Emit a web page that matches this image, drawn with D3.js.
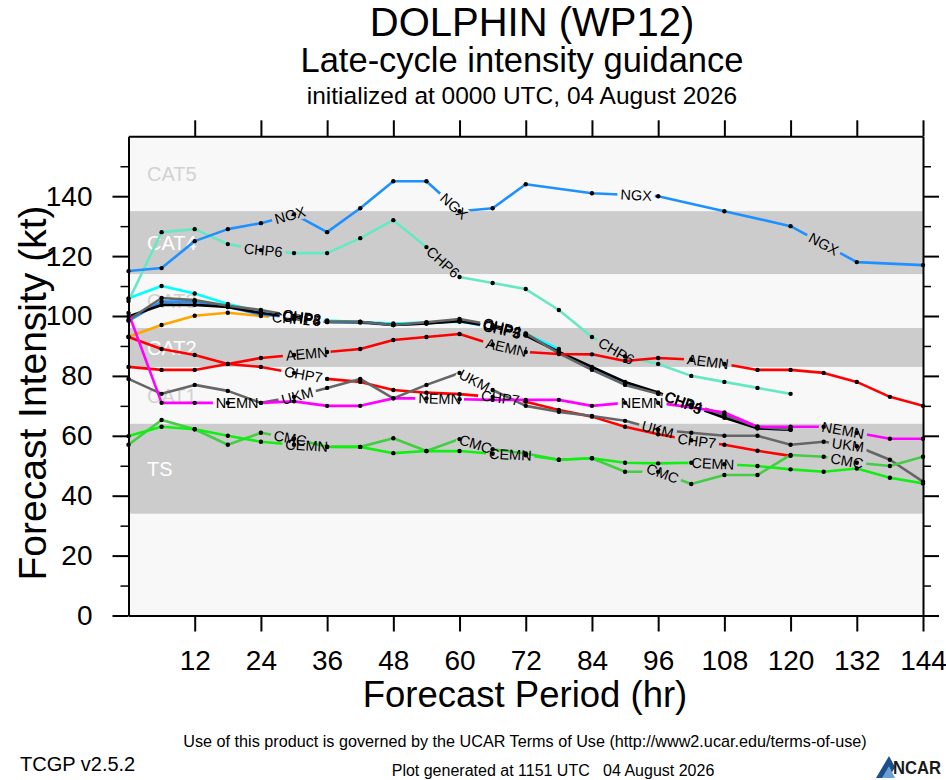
<!DOCTYPE html>
<html><head><meta charset="utf-8">
<script src="https://cdn.jsdelivr.net/npm/d3@7/dist/d3.min.js"></script>
<style>
body{margin:0;background:#fff;}
svg text{font-family:"Liberation Sans", Arial, Helvetica, sans-serif;}
</style></head><body>
<svg id="chart" width="946" height="780"></svg>
<script>
// ---------------- DATA ----------------
const titleText = "DOLPHIN (WP12)";
const subtitleText = "Late-cycle intensity guidance";
const initText = "initialized at 0000 UTC, 04 August 2026";
const xTitle = "Forecast Period (hr)";
const yTitle = "Forecast Intensity (kt)";
const xTicks = [12,24,36,48,60,72,84,96,108,120,132,144];
const yTicks = [0,20,40,60,80,100,120,140];
const yMinorTicks = [10,30,50,70,90,110,130,150];

const catNames = ["TS","CAT1","CAT2","CAT3","CAT4","CAT5"];
const catLow   = [34,64,83,96,114,135];
const catHigh  = [64,83,96,114,135,160];
const catShaded = [true,false,true,false,true,false];

const hrs0to144 = [0,6,12,18,24,30,36,42,48,54,60,66,72,78,84,90,96,102,108,114,120,126,132,138,144];
const hrs0to120 = [0,6,12,18,24,30,36,42,48,54,60,66,72,78,84,90,96,102,108,114,120];
const hrs0to78  = [0,6,12,18,24,30,36,42,48,54,60,66,72,78];
const hrs0to30  = [0,6,12,18,24,30];
const ngxHours  = [0,6,12,18,24,30,36,42,48,54,60,66,72,84,96,108,120,132,144];

const ngxVals  = [115,116,125,129,131,134,128,136,145,145,135,136,144,141,140,135,130,118,117];
const chp6Vals = [105,128,129,124,122,121,121,126,132,123,113,111,109,102,93,86.5,84,80,78,76,74];
const aemnVals = [83,82,82,84,86,87,88,89,92,93,94,90.5,88,87.3,87.2,85,86,85.5,84,82,82,81,78,73,70];
const chp7Vals = [93,89,87,84,83,81,79,78,75.3,74.4,73.9,73,71.4,68.6,66.4,63,60.5,58.5,57,55,53.3];
const ukmVals  = [79,74,77,75,71,73,76,79,72.5,77,81,75.3,70,68,66.6,65,62,61,60,60,57,58,56.5,52,44.7];
const nemnVals = [101,71,71,71,71,71.5,70,70,72.5,72.5,72.2,72,72,72,70,71,71,69.5,67.8,63,63,63,61,59,59];
const cmcVals  = [57,65.3,62.2,57,61,59,56.3,56.3,59.2,54.9,58.9,55.5,54.1,52,52.5,48,48,43.9,46.9,46.9,53.6,53,51,49.9,53];
const cemnVals = [59.9,63,62.2,60,58,57,56.4,56.3,54.2,54.9,54.9,54,53.5,52,52.5,51,50.8,51,50.5,49.9,48.8,48,49.1,46,44.1];
const chp4Vals = [98.7,106,105.3,103.4,102,100,98.1,98.1,97,97.9,99,97,94.2,87.5,82,77,74,70.5,67,63,62.2];
const chp3Vals = [99.8,103.7,103.7,103,101,99.5,98,98,97,97.5,98.3,96.5,93.5,88,83,78,74.5,70,66,62.5,62];
const chp5Vals = [98.4,104.8,104.8,103,100.5,99.5,98,97.8,97,97.5,98.5,96,93.6,88,82.5,77.5,74.2,70,66.5,62.5,62];
const chp2Vals = [105.9,110,107.5,104,101.4,100,98.5,98,97.5,97.8,98.1,96.5,94,89];
const chp1Vals = [93.1,97,100.1,101.1,100,99];

// label positions (forecast hour) along each line
const ngxLab  = [29.3,59,92,126];
const chp6Lab = [24.4,57,88.4];
const aemnLab = [32.3,68.5,105];
const chp7Lab = [31.7,67.4,103];
const nemnLab = [19.7,56.4,93.1,129.5];
const ukmLab  = [30.6,62.7,95.9,130.4];
const cmcLab  = [29.3,62.9,96.8,130.2];
const cemnLab = [32.3,69.2,105.9];
const clusterLab = [31.4,67.7,100.6];

// ---------------- BUILD ----------------
const series = [
  {name:"CHP1", hours:hrs0to30,  vals:chp1Vals, color:"#ffa500", labels:[29.5]},
  {name:"CHP2", hours:hrs0to78,  vals:chp2Vals, color:"#00ffff", labels:clusterLab.slice(0,2)},
  {name:"CHP5", hours:hrs0to120, vals:chp5Vals, color:"#1e90ff", labels:clusterLab},
  {name:"CHP3", hours:hrs0to120, vals:chp3Vals, color:"#000000", labels:clusterLab},
  {name:"CHP4", hours:hrs0to120, vals:chp4Vals, color:"#666666", labels:clusterLab},
  {name:"CHP6", hours:hrs0to120, vals:chp6Vals, color:"#66e8c4", labels:chp6Lab},
  {name:"NGX",  hours:ngxHours,  vals:ngxVals,  color:"#1e90ff", labels:ngxLab},
  {name:"AEMN", hours:hrs0to144, vals:aemnVals, color:"#ff0000", labels:aemnLab},
  {name:"CHP7", hours:hrs0to120, vals:chp7Vals, color:"#ff0000", labels:chp7Lab},
  {name:"UKM",  hours:hrs0to144, vals:ukmVals,  color:"#666666", labels:ukmLab},
  {name:"NEMN", hours:hrs0to144, vals:nemnVals, color:"#ff00ff", labels:nemnLab},
  {name:"CMC",  hours:hrs0to144, vals:cmcVals,  color:"#44cc44", labels:cmcLab},
  {name:"CEMN", hours:hrs0to144, vals:cemnVals, color:"#11ee11", labels:cemnLab}
];

const svg = d3.select("#chart");
const X0 = 128.5, X1 = 923, YB = 615.5, YT = 136.3;
const x = d3.scaleLinear().domain([0,144]).range([X0, X1]);
const y = d3.scaleLinear().domain([0,160]).range([YB, YT]);

const defs = svg.append("defs");
defs.append("clipPath").attr("id","plotclip").append("rect")
  .attr("x",X0).attr("y",YT).attr("width",X1-X0).attr("height",YB-YT);

// background & bands
svg.append("rect").attr("x",X0).attr("y",YT).attr("width",X1-X0).attr("height",YB-YT).attr("fill","#f8f8f8");
const bands = svg.append("g");
catNames.forEach((c,i)=>{
  if (catShaded[i]) {
    bands.append("rect").attr("x",X0).attr("width",X1-X0)
      .attr("y",y(catHigh[i])).attr("height",y(catLow[i])-y(catHigh[i])).attr("fill","#cccccc");
  }
  bands.append("text").attr("x",147).attr("y",(y(catHigh[i])+y(catLow[i]))/2)
    .attr("dy","0.36em").attr("font-size",20)
    .attr("fill", catShaded[i] ? "#ffffff" : "#d2d2d2").text(c);
});

// label geometry
function pointAt(s, h){
  const hs = s.hours;
  h = Math.max(hs[0], Math.min(hs[hs.length-1], h));
  let i = d3.bisectRight(hs, h) - 1;
  if (i >= hs.length-1) i = hs.length-2;
  const t = (h - hs[i])/(hs[i+1]-hs[i]);
  const x0 = x(hs[i]), y0 = y(s.vals[i]), x1 = x(hs[i+1]), y1 = y(s.vals[i+1]);
  return {px: x0 + t*(x1-x0), py: y0 + t*(y1-y0), ang: Math.atan2(y1-y0, x1-x0)*180/Math.PI};
}

const linesG = svg.append("g").attr("clip-path","url(#plotclip)");
const dotsG = svg.append("g");
const labG = svg.append("g");

series.forEach((s,si)=>{
  const pts = s.hours.map((h,i)=>[h, s.vals[i]]);
  const labs = s.labels.map(h=>{
    const p = pointAt(s,h);
    const t = labG.append("text")
      .attr("transform",`translate(${p.px},${p.py}) rotate(${p.ang})`)
      .attr("text-anchor","middle").attr("dy","0.35em")
      .attr("font-size",14.5).attr("fill","#000").text(s.name);
    return {p, w: t.node().getComputedTextLength()};
  });
  const m = defs.append("mask").attr("id","mask"+si).attr("maskUnits","userSpaceOnUse")
    .attr("x",0).attr("y",0).attr("width",946).attr("height",780);
  m.append("rect").attr("x",0).attr("y",0).attr("width",946).attr("height",780).attr("fill","#fff");
  labs.forEach(l=>{
    m.append("rect").attr("x",-l.w/2-3).attr("y",-7).attr("width",l.w+6).attr("height",14)
      .attr("transform",`translate(${l.p.px},${l.p.py}) rotate(${l.p.ang})`).attr("fill","#000");
  });
  linesG.append("path").datum(pts)
    .attr("d", d3.line().x(d=>x(d[0])).y(d=>y(d[1])))
    .attr("fill","none").attr("stroke",s.color).attr("stroke-width",2.6)
    .attr("stroke-linejoin","round").attr("mask",`url(#mask${si})`);
  dotsG.selectAll(null).data(pts).enter().append("circle")
    .attr("cx",d=>x(d[0])).attr("cy",d=>y(d[1])).attr("r",2.2).attr("fill","#000");
});
labG.raise();

// axes
const axG = svg.append("g").attr("class","axes");
const styleAxis = g => { g.selectAll("path,line").attr("stroke","#000").attr("stroke-width",2); g.selectAll("text").attr("fill","#000").attr("font-family",'"Liberation Sans", Arial, sans-serif'); };

axG.append("g").attr("transform",`translate(${X0},0)`)
  .call(d3.axisLeft(y).tickValues(yTicks).tickSize(16).tickSizeOuter(0).tickPadding(20))
  .call(styleAxis).call(g=>g.selectAll("text").attr("font-size",28));
axG.append("g").attr("transform",`translate(${X0},0)`)
  .call(d3.axisLeft(y).tickValues(yMinorTicks).tickSize(8).tickFormat(""))
  .call(styleAxis).call(g=>g.select(".domain").remove()).call(g=>g.selectAll("line").attr("stroke-width",1.5));
axG.append("g").attr("transform",`translate(${X1},0)`)
  .call(d3.axisRight(y).tickValues(yTicks).tickSize(16).tickSizeOuter(0).tickFormat(""))
  .call(styleAxis);
axG.append("g").attr("transform",`translate(${X1},0)`)
  .call(d3.axisRight(y).tickValues(yMinorTicks).tickSize(8).tickFormat(""))
  .call(styleAxis).call(g=>g.select(".domain").remove()).call(g=>g.selectAll("line").attr("stroke-width",1.5));
axG.append("g").attr("transform",`translate(0,${YB})`)
  .call(d3.axisBottom(x).tickValues(xTicks).tickSize(16).tickSizeOuter(0).tickPadding(19))
  .call(styleAxis).call(g=>g.selectAll("text").attr("font-size",28));
axG.append("g").attr("transform",`translate(0,${YT})`)
  .call(d3.axisTop(x).tickValues(xTicks).tickSize(16).tickSizeOuter(0).tickFormat(""))
  .call(styleAxis);

// axis titles
svg.append("text").attr("x",525).attr("y",707).attr("text-anchor","middle").attr("font-size",36.5).text(xTitle);
svg.append("text").attr("transform","translate(46,393) rotate(-90)").attr("text-anchor","middle").attr("font-size",39).text(yTitle);

// titles
svg.append("text").attr("x",532).attr("y",36).attr("text-anchor","middle").attr("font-size",40).text(titleText);
svg.append("text").attr("x",522).attr("y",72).attr("text-anchor","middle").attr("font-size",34.5).text(subtitleText);
svg.append("text").attr("x",522).attr("y",104).attr("text-anchor","middle").attr("font-size",24.5).text(initText);

// footer
svg.append("text").attr("x",525).attr("y",747).attr("text-anchor","middle").attr("font-size",16.2)
  .text("Use of this product is governed by the UCAR Terms of Use (http://www2.ucar.edu/terms-of-use)");
svg.append("text").attr("x",20).attr("y",771).attr("font-size",20).text("TCGP v2.5.2");
svg.append("text").attr("x",553).attr("y",776).attr("text-anchor","middle").attr("font-size",16)
  .attr("xml:space","preserve").style("white-space","pre").text("Plot generated at 1151 UTC   04 August 2026");
// NCAR logo
const logo = svg.append("g");
logo.append("path").attr("d","M876,778 L889,756 L895,767 L889,778 Z").attr("fill","#1b4f8c");
logo.append("path").attr("d","M882,778 L889,766 L895,778 Z").attr("fill","#6a9fd4");
logo.append("text").attr("x",893).attr("y",774).attr("font-size",18).attr("font-weight","bold")
  .attr("textLength",48).attr("lengthAdjust","spacingAndGlyphs").attr("fill","#1a1a1a").text("NCAR");
</script>
</body></html>
